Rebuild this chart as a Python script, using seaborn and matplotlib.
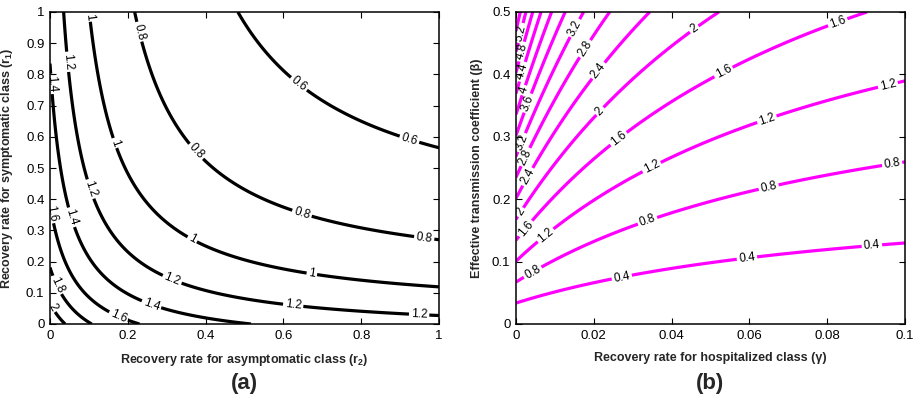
import numpy as np
import matplotlib
matplotlib.use("Agg")
import matplotlib.pyplot as plt
import seaborn as sns

# ---- contour levels of the basic reproduction number ----
levels_a = [0.6, 0.8, 1.0, 1.2, 1.4, 1.6, 1.8, 2.0]
levels_b = [0.4, 0.8, 1.2, 1.6, 2.0, 2.4, 2.8, 3.2, 3.6, 4.0, 4.4, 4.8, 5.2, 5.6]

# ---- model coefficients ----
# panel (a): R0 = sym_weight/(r1+sym_offset) + asym_weight/(r2+asym_offset)
sym_weight, sym_offset = 0.385, 0.35
asym_weight, asym_offset = 0.215, 0.20
# panel (b): R0 = beta * (hosp_base + hosp_weight/(gamma+hosp_offset))
hosp_base, hosp_weight, hosp_offset = 1.8, 0.1466, 0.0145

# ---- axis ranges and ticks ----
r_range = (0.0, 1.0)
gamma_range = (0.0, 0.1)
beta_range = (0.0, 0.5)
xticks_a = [0, 0.2, 0.4, 0.6, 0.8, 1]
xticklabels_a = ["0", "0.2", "0.4", "0.6", "0.8", "1"]
yticks_a = [0, 0.1, 0.2, 0.3, 0.4, 0.5, 0.6, 0.7, 0.8, 0.9, 1]
yticklabels_a = ["0", "0.1", "0.2", "0.3", "0.4", "0.5", "0.6", "0.7", "0.8", "0.9", "1"]
xticks_b = [0, 0.02, 0.04, 0.06, 0.08, 0.1]
xticklabels_b = ["0", "0.02", "0.04", "0.06", "0.08", "0.1"]
yticks_b = [0, 0.1, 0.2, 0.3, 0.4, 0.5]
yticklabels_b = ["0", "0.1", "0.2", "0.3", "0.4", "0.5"]

# ---- where the inline contour labels sit (data coordinates) ----
label_spots_a = [
    (0.64, 0.77), (0.925, 0.596),
    (0.227, 0.936), (0.373, 0.55), (0.648, 0.356), (0.962, 0.276),
    (0.098, 0.985), (0.167, 0.58), (0.365, 0.27), (0.673, 0.16),
    (0.043, 0.84), (0.098, 0.43), (0.313, 0.14), (0.625, 0.058), (0.949, 0.032),
    (0.008, 0.77), (0.05, 0.34), (0.262, 0.067),
    (0.008, 0.356), (0.175, 0.022),
    (0.018, 0.125),
    (0.008, 0.054),
]
label_spots_b = [
    (0.0272, 0.075), (0.0594, 0.104), (0.0915, 0.125),
    (0.0041, 0.085), (0.034, 0.162), (0.065, 0.218), (0.0967, 0.256),
    (0.0075, 0.143), (0.035, 0.25), (0.0645, 0.328), (0.0956, 0.383),
    (0.0023, 0.154), (0.026, 0.30), (0.0535, 0.402), (0.0828, 0.482),
    (0.001, 0.18), (0.0221, 0.338), (0.046, 0.471),
    (0.003, 0.236), (0.0216, 0.404),
    (0.0023, 0.268), (0.0183, 0.439),
    (0.0018, 0.29), (0.0152, 0.474),
    (0.003, 0.354),
    (0.0018, 0.375),
    (0.0018, 0.404),
    (0.0018, 0.436),
    (0.0015, 0.466),
]

# ---- styling ----
sns.set_style("ticks")
plt.rcParams["font.family"] = ["Liberation Sans", "DejaVu Sans"]
plt.rcParams["mathtext.fontset"] = "custom"
plt.rcParams["mathtext.rm"] = "Liberation Sans"
plt.rcParams["mathtext.bf"] = "Liberation Sans:bold"
plt.rcParams["mathtext.it"] = "Liberation Sans:italic"
plt.rcParams["axes.linewidth"] = 1.1
plt.rcParams["xtick.direction"] = "in"
plt.rcParams["ytick.direction"] = "in"

fig = plt.figure(figsize=(9.16, 4.0), dpi=100)
W, H = 916.0, 400.0
ax_a = fig.add_axes([50 / W, 1 - 324 / H, 389 / W, 312 / H])
ax_b = fig.add_axes([516 / W, 1 - 324 / H, 389 / W, 312 / H])

# ---- panel (a): symptomatic vs asymptomatic recovery rates ----
r2 = np.linspace(*r_range, 500)
r1 = np.linspace(*r_range, 500)
R2, R1 = np.meshgrid(r2, r1)
R0_a = sym_weight / (R1 + sym_offset) + asym_weight / (R2 + asym_offset)
cs_a = ax_a.contour(R2, R1, R0_a, levels=levels_a, colors="black", linewidths=2.3)
ax_a.clabel(cs_a, fmt="%g", fontsize=8.5, inline=True, inline_spacing=2,
            manual=label_spots_a)

# ---- panel (b): hospital recovery rate vs transmission coefficient ----
gam = np.linspace(*gamma_range, 500)
bet = np.linspace(*beta_range, 500)
G, B = np.meshgrid(gam, bet)
R0_b = B * (hosp_base + hosp_weight / (G + hosp_offset))
cs_b = ax_b.contour(G, B, R0_b, levels=levels_b, colors="#FF00FF", linewidths=2.3)
ax_b.clabel(cs_b, fmt="%g", fontsize=8.5, inline=True, inline_spacing=2,
            manual=label_spots_b, colors="black")

for ax, xr, yr, xt, xtl, yt, ytl in [
    (ax_a, r_range, r_range, xticks_a, xticklabels_a, yticks_a, yticklabels_a),
    (ax_b, gamma_range, beta_range, xticks_b, xticklabels_b, yticks_b, yticklabels_b),
]:
    ax.set_xlim(*xr)
    ax.set_ylim(*yr)
    ax.set_xticks(xt)
    ax.set_xticklabels(xtl)
    ax.set_yticks(yt)
    ax.set_yticklabels(ytl)
    ax.tick_params(axis="both", which="both", top=True, right=True, length=4,
                   width=0.8, labelsize=9.5, pad=4, colors="black")
    for s in ax.spines.values():
        s.set_visible(True)
        s.set_color("black")

ax_a.set_xlabel(r"Recovery rate for asymptomatic class (${\bf r}_{\bf 2}$)",
                fontsize=9, fontweight="bold")
ax_a.set_ylabel(r"Recovery rate for symptomatic class (${\bf r}_{\bf 1}$)",
                fontsize=9, fontweight="bold")
ax_b.set_xlabel("Recovery rate for hospitalized class (γ)", fontsize=9, fontweight="bold")
ax_b.set_ylabel("Effective transmission coefficient (β)", fontsize=9, fontweight="bold")
ax_a.xaxis.set_label_coords(0.5, -0.09)
ax_b.xaxis.set_label_coords(0.5, -0.09)
ax_a.yaxis.set_label_coords(-0.09, 0.5)
ax_b.yaxis.set_label_coords(-0.085, 0.5)

fig.text(244.5 / W, 1 - 384 / H, "(a)", ha="center", va="center",
         fontsize=16, fontweight="bold")
fig.text(710 / W, 1 - 384 / H, "(b)", ha="center", va="center",
         fontsize=16, fontweight="bold")

fig.savefig("out.png", dpi=100)
